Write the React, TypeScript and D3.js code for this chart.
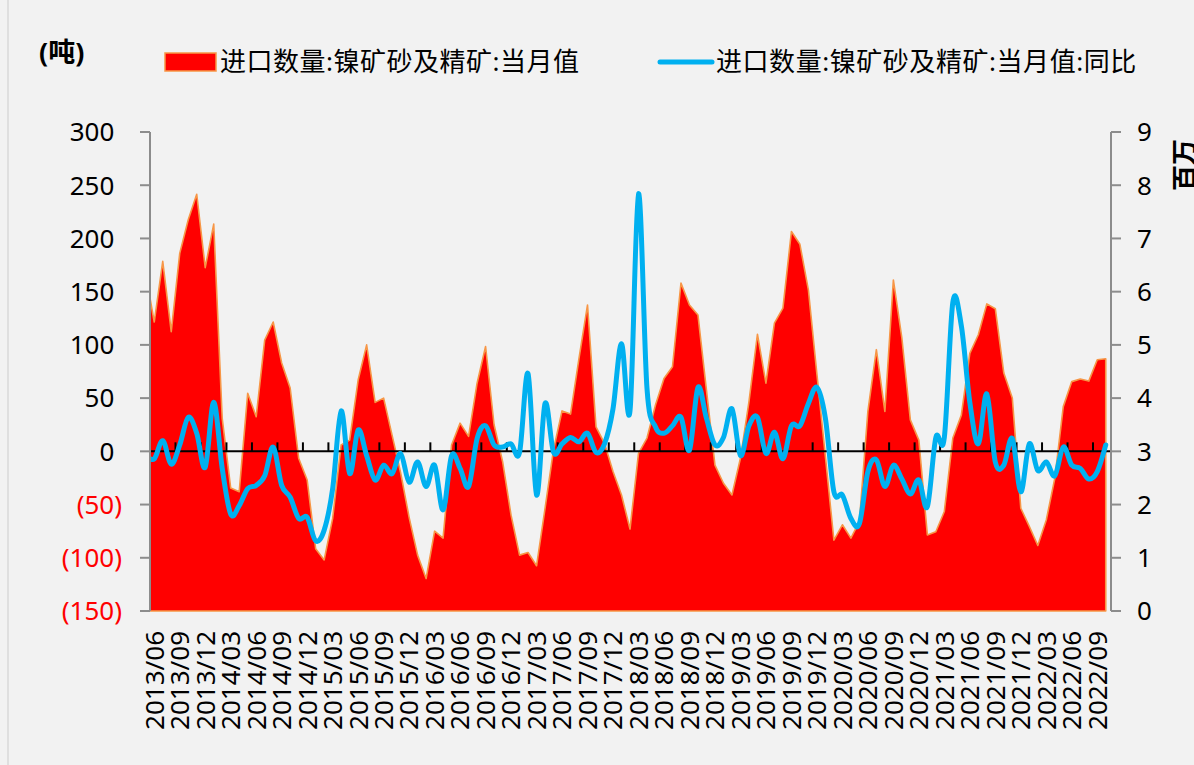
import React from "react";
import * as d3 from "d3";

// Months 2013/05 .. 2022/10 (2013/05 sits just left of the plot and is clipped)
const months: string[] = d3
  .timeMonth.range(new Date(2013, 4, 1), new Date(2022, 10, 1))
  .map((d) => d3.timeFormat("%Y/%m")(d));

// 进口数量:镍矿砂及精矿:当月值 (百万吨, right axis)
const importVolume: number[] = [
  6.33,
  5.43, 6.57, 5.25, 6.72, 7.35, 7.83, 6.45, 7.27, 3.62, 2.31,
  2.24, 4.09, 3.65, 5.09, 5.43, 4.66, 4.19, 2.87, 2.46, 1.17,
  0.96, 1.74, 3.12, 3.21, 4.34, 5.0, 3.92, 4.0, 3.3, 2.6,
  1.76, 1.05, 0.61, 1.5, 1.37, 3.12, 3.53, 3.28, 4.28, 4.97,
  3.5, 2.81, 1.8, 1.05, 1.1, 0.85, 1.93, 3.03, 3.76, 3.7,
  4.75, 5.75, 3.46, 3.15, 2.62, 2.18, 1.54, 2.96, 3.25, 3.87,
  4.37, 4.59, 6.16, 5.75, 5.56, 4.15, 2.74, 2.4, 2.18, 2.87,
  3.93, 5.2, 4.28, 5.41, 5.69, 7.13, 6.89, 6.03, 4.45, 2.9,
  1.33, 1.62, 1.37, 1.68, 3.75, 4.91, 3.75, 6.22, 5.13, 3.59,
  3.21, 1.43, 1.49, 1.87, 3.25, 3.68, 4.84, 5.19, 5.77, 5.68,
  4.47, 4.0, 1.93, 1.59, 1.23, 1.71, 2.49, 3.84, 4.31, 4.36,
  4.32, 4.72, 4.74,
];

// 进口数量:镍矿砂及精矿:当月值:同比 (%, left axis)
const importYoY: number[] = [
  -4,
  -7, 10, -12, 6, 32, 17, -15, 46, -16, -59,
  -51, -35, -32, -23, 4, -32, -43, -63, -62, -84,
  -74, -35, 38, -21, 20, -4, -27, -13, -21, -2,
  -29, -10, -33, -13, -55, -4, -16, -33, 12, 24,
  6, 4, 7, -1, 73, -41, 45, -1, 7, 13,
  9, 17, -1, 7, 40, 101, 38, 242, 59, 23,
  17, 24, 32, 1, 60, 31, 6, 13, 40, -4,
  24, 32, -2, 18, -7, 24, 24, 45, 60, 31,
  -38, -41, -63, -68, -19, -8, -33, -13, -26, -40,
  -27, -52, 13, 13, 140, 118, 46, 7, 54, -10,
  -13, 12, -38, 7, -18, -10, -23, 4, -13, -16,
  -26, -19, 6,
];

const leftTicks: number[] = [-150, -100, -50, 0, 50, 100, 150, 200, 250, 300];
const rightTicks: number[] = [0, 1, 2, 3, 4, 5, 6, 7, 8, 9];
const legendNames: string[] = [
  "进口数量:镍矿砂及精矿:当月值",
  "进口数量:镍矿砂及精矿:当月值:同比",
];
const leftUnit = "(吨)";
const rightUnit = "百万";

const W = 1194;
const H = 765;
const FONT = "'Noto Sans', 'Noto Sans CJK SC', sans-serif";
const RED = "#FF0000";
const ORANGE = "#F79646";
const BLUE = "#00B0F0";
const AXIS = "#8C8C8C";

export default function App() {
  const plot = { left: 150, right: 1110, top: 132, bottom: 611 };
  const visible = months.slice(1); // 2013/06 .. 2022/10
  const x = d3
    .scaleLinear()
    .domain([-0.5, visible.length - 0.5])
    .range([plot.left, plot.right]);
  const xi = (i: number) => x(i - 1); // index into full arrays (first is 2013/05)
  const yL = d3.scaleLinear().domain([-150, 300]).range([plot.bottom, plot.top]);
  const yR = d3.scaleLinear().domain([0, 9]).range([plot.bottom, plot.top]);

  const areaGen = d3
    .area<number>()
    .x((_, i) => xi(i))
    .y0(yR(0))
    .y1((d) => yR(d));
  const lineGen = d3
    .line<number>()
    .x((_, i) => xi(i))
    .y((d) => yL(d))
    .curve(d3.curveCardinal.tension(0));

  const labelIdx = visible.map((_, i) => i).filter((i) => i % 3 === 0);
  const boundaryTicks = labelIdx.map((i) => x(i - 0.5));
  const y0 = yL(0);

  return (
    <svg
      width={W}
      height={H}
      style={{ position: "absolute", left: 0, top: 0, background: "#F2F2F2" }}
      fontFamily={FONT}
    >
      <defs>
        <clipPath id="plotClip">
          <rect x={plot.left} y={plot.top - 10} width={plot.right - plot.left} height={plot.bottom - plot.top + 12} />
        </clipPath>
      </defs>
      <rect x={0} y={0} width={W} height={H} fill="#F2F2F2" />
      <line x1={8} x2={8} y1={0} y2={H} stroke="#D9D9D9" strokeWidth={1.5} />

      {/* legend */}
      <text x={39} y={62} fontSize={27} fontWeight="bold" fill="#000">
        {leftUnit}
      </text>
      <rect x={165} y={53} width={51} height={18} fill={RED} stroke={ORANGE} strokeWidth={1.5} />
      <text x={220} y={71} fontSize={26} letterSpacing={0.5} fill="#000">
        {legendNames[0]}
      </text>
      <line x1={660} x2={712} y1={62} y2={62} stroke={BLUE} strokeWidth={5} strokeLinecap="round" />
      <text x={716} y={71} fontSize={26} letterSpacing={0.55} fill="#000">
        {legendNames[1]}
      </text>

      {/* right unit (cut by the right edge, as in the reference) */}
      <text
        transform={`translate(1194,165) rotate(-90)`}
        textAnchor="middle"
        fontSize={26}
        fontWeight="bold"
        fill="#000"
      >
        {rightUnit}
      </text>

      {/* area */}
      <g clipPath="url(#plotClip)">
        <path d={areaGen(importVolume) || ""} fill={RED} stroke={ORANGE} strokeWidth={1.6} strokeLinejoin="round" />
      </g>

      {/* zero line with category ticks */}
      <line x1={plot.left} x2={plot.right} y1={y0} y2={y0} stroke="#000" strokeWidth={2} />
      {boundaryTicks.map((tx, k) => (
        <line key={k} x1={tx} x2={tx} y1={y0 - 9} y2={y0} stroke="#000" strokeWidth={2} />
      ))}

      {/* YoY line */}
      <g clipPath="url(#plotClip)">
        <path d={lineGen(importYoY) || ""} fill="none" stroke={BLUE} strokeWidth={5} strokeLinejoin="round" strokeLinecap="round" />
      </g>

      {/* left axis */}
      <line x1={plot.left} x2={plot.left} y1={plot.top} y2={plot.bottom} stroke={AXIS} strokeWidth={2} />
      {leftTicks.map((v) => (
        <g key={v}>
          <line x1={plot.left - 10} x2={plot.left} y1={yL(v)} y2={yL(v)} stroke={AXIS} strokeWidth={2} />
          <text
            x={v < 0 ? 122 : 114.3}
            y={yL(v)}
            dy="0.36em"
            textAnchor="end"
            fontSize={26}
            fill={v < 0 ? RED : "#000"}
          >
            {v < 0 ? `(${-v})` : `${v}`}
          </text>
        </g>
      ))}

      {/* right axis */}
      <line x1={plot.right + 1} x2={plot.right + 1} y1={plot.top} y2={plot.bottom} stroke={AXIS} strokeWidth={2} />
      {rightTicks.map((v) => (
        <g key={v}>
          <line x1={plot.right + 1} x2={plot.right + 11} y1={yR(v)} y2={yR(v)} stroke={AXIS} strokeWidth={2} />
          <text x={1137} y={yR(v)} dy="0.36em" fontSize={26} fill="#000">
            {v}
          </text>
        </g>
      ))}

      {/* x labels */}
      {labelIdx.map((i) => (
        <text
          key={i}
          transform={`translate(${x(i)},631) rotate(-90)`}
          dy="0.36em"
          textAnchor="end"
          fontSize={26}
          fill="#000"
        >
          {visible[i]}
        </text>
      ))}
    </svg>
  );
}
